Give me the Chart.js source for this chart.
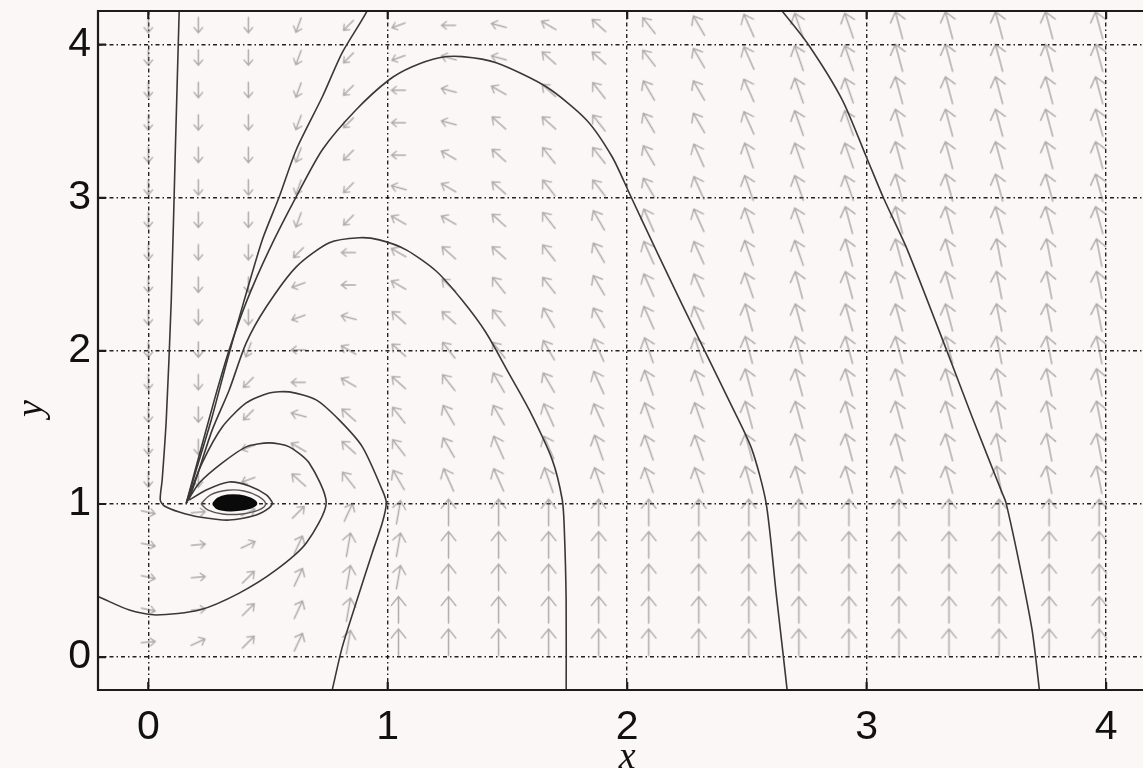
<!DOCTYPE html>
<html>
<head>
<meta charset="utf-8">
<title>Phase portrait</title>
<script src="https://cdn.jsdelivr.net/npm/chart.js@4.4.1/dist/chart.umd.min.js"></script>
<style>
  html, body { margin: 0; padding: 0; background: #fcf7f7; overflow: hidden; }
  #wrap { width: 1160px; height: 768px; }
</style>
</head>
<body>
<div id="wrap"><canvas id="phase" width="1160" height="768"></canvas></div>
<script>
// Axis ticks
const xTicks = [0, 1, 2, 3, 4];
const yTicks = [0, 1, 2, 3, 4];

// Quiver grid
const fieldX = [0, 0.209, 0.418, 0.627, 0.836, 1.045, 1.254, 1.463, 1.672, 1.881,
                2.09, 2.299, 2.508, 2.717, 2.926, 3.135, 3.344, 3.553, 3.762, 3.971];
const fieldY = [0.098, 0.31, 0.522, 0.734, 0.946, 1.158, 1.37, 1.582, 1.794, 2.006,
                2.218, 2.43, 2.642, 2.854, 3.066, 3.278, 3.49, 3.702, 3.914, 4.126];

// one letter per arrow, bottom row first
const fieldCodes = [
    'tsrqpooooooooooooooo',
    'utrqpooooooooooooooo',
    'utrqppoooooooooooooo',
    'utsqppoooooooooooooo',
    'utsrqpoooooooooooooo',
    'aadhijkkllllmmmmmnnn',
    'aadghijkklllmmmmmnnn',
    'aacfhijjkkllmmmmmnnn',
    'aaceghijjkllmmmmmnnn',
    'aabeghiijkllmmmmmnnn',
    'aaadfhhijjkkmmmmmnnn',
    'aaadeghiijkklmmmmnnn',
    'aaaceghhijkkllmmmnnn',
    'aaabcgghijkkllmmmmmm',
    'aaabcfghiijklllmmmmm',
    'aaabceghiijklllmmmmm',
    'aaabcefhhijjkllmmmmm',
    'aaabcefghijjkllmmmmm',
    'aaabcdffhhijkllmmmmm',
    'aaabcdefghijkllmmmmm'
];

// letter -> [direction in degrees, relative magnitude]
const glyphs = {
    a: [-90, 0.55], b: [-110, 0.55], c: [-135, 0.5], d: [-160, 0.5],
    e: [180, 0.5], f: [165, 0.55], g: [150, 0.6], h: [138, 0.65],
    i: [128, 0.72], j: [120, 0.8], k: [114, 0.88], l: [109, 0.94],
    m: [105, 1.0], n: [101, 1.0], o: [90, 0.95], p: [80, 0.85],
    q: [65, 0.7], r: [45, 0.6], s: [25, 0.55], t: [5, 0.5], u: [-12, 0.5]
};

// Trajectories [x, y]
const trajLeft = [[0.131, 4.3], [0.129, 4.216], [0.113, 3.314], [0.096, 2.333], [0.075, 1.549],
    [0.058, 1.157], [0.05, 1.026], [0.067, 0.987], [0.129, 0.948], [0.213, 0.915],
    [0.338, 0.895], [0.451, 0.928], [0.505, 0.974], [0.518, 1.007], [0.493, 1.059],
    [0.422, 1.118], [0.338, 1.144], [0.242, 1.092], [0.171, 1.026]];
const trajInner = [[-0.3, 0.45], [-0.205, 0.392], [-0.079, 0.307], [0.033, 0.275], [0.213, 0.307],
    [0.38, 0.418], [0.534, 0.569], [0.66, 0.745], [0.743, 1.007], [0.672, 1.268],
    [0.589, 1.373], [0.505, 1.399], [0.409, 1.373], [0.309, 1.268], [0.213, 1.137], [0.159, 1.007]];
const trajSecond = [[0.755, -0.3], [0.768, -0.216], [0.81, 0.065], [0.881, 0.418], [0.935, 0.68],
    [0.977, 0.876], [0.994, 1.007], [0.977, 1.092], [0.894, 1.373], [0.797, 1.549],
    [0.701, 1.68], [0.589, 1.732], [0.505, 1.725], [0.409, 1.66], [0.309, 1.503],
    [0.225, 1.268], [0.159, 1.007]];
const trajThird = [[1.745, -0.3], [1.745, 0.373], [1.737, 0.85], [1.729, 1.026], [1.687, 1.288],
    [1.591, 1.614], [1.5, 1.87], [1.41, 2.12], [1.311, 2.33], [1.203, 2.52],
    [1.077, 2.66], [0.965, 2.725], [0.881, 2.739], [0.756, 2.706], [0.618, 2.549],
    [0.493, 2.288], [0.409, 2.052], [0.338, 1.745], [0.267, 1.484], [0.184, 1.092], [0.159, 1.007]];
const trajFourth = [[2.672, -0.3], [2.668, -0.216], [2.622, 0.418], [2.58, 1.007], [2.52, 1.36],
    [2.43, 1.66], [2.33, 1.98], [2.23, 2.3], [2.12, 2.66], [2.008, 3.033],
    [1.937, 3.268], [1.829, 3.51], [1.662, 3.725], [1.453, 3.882], [1.311, 3.922],
    [1.215, 3.915], [1.102, 3.856], [1.006, 3.771], [0.868, 3.575], [0.727, 3.314],
    [0.618, 3.007], [0.505, 2.66], [0.413, 2.333], [0.338, 2.007], [0.276, 1.68],
    [0.213, 1.32], [0.159, 1.007]];
const trajFan = [[0.93, 4.3], [0.91, 4.209], [0.81, 3.948], [0.727, 3.66], [0.618, 3.314],
    [0.547, 3.007], [0.476, 2.725], [0.401, 2.333], [0.33, 1.941], [0.263, 1.549],
    [0.2, 1.222], [0.159, 1.007]];
const trajOuter = [[3.726, -0.3], [3.72, -0.196], [3.691, 0.176], [3.637, 0.614], [3.582, 1.007],
    [3.566, 1.072], [3.44, 1.57], [3.335, 2.0], [3.17, 2.66], [3.07, 3.0],
    [2.998, 3.27], [2.898, 3.64], [2.757, 4.0], [2.649, 4.216], [2.6, 4.3]];

// Focus near (0.36, 1)
const focusCore = [[0.27, 1.0], [0.29, 1.035], [0.33, 1.055], [0.38, 1.055], [0.42, 1.04],
    [0.45, 1.01], [0.44, 0.985], [0.4, 0.965], [0.34, 0.958], [0.29, 0.97], [0.27, 1.0]];
const focusRing = [[0.22, 1.0], [0.26, 1.06], [0.33, 1.09], [0.4, 1.085], [0.46, 1.05],
    [0.49, 1.0], [0.46, 0.96], [0.39, 0.935], [0.31, 0.935], [0.25, 0.96], [0.22, 1.0]];

const MAX_ARROW = 28;
const ARROW_COLOR = 'rgba(110, 110, 110, 0.55)';
const LINE_COLOR = '#383838';

function toPoints(list) {
    return list.map(p => ({ x: p[0], y: p[1] }));
}

// Pre-render one arrow canvas per glyph letter (pointing right, rotated by Chart.js)
const arrowImages = {};
Object.keys(glyphs).forEach(k => {
    const len = glyphs[k][1] * MAX_ARROW;
    const head = len * 0.34;
    const half = head * 0.8;
    const cv = document.createElement('canvas');
    cv.width = Math.ceil(len + 6);
    cv.height = Math.ceil(half * 2 + 6);
    const c = cv.getContext('2d');
    const cy = cv.height / 2;
    const x0 = 3, x1 = 3 + len;
    c.strokeStyle = ARROW_COLOR;
    c.lineWidth = 1.4;
    c.lineCap = 'round';
    c.beginPath();
    c.moveTo(x0, cy);
    c.lineTo(x1, cy);
    c.moveTo(x1 - head, cy - half);
    c.lineTo(x1, cy);
    c.lineTo(x1 - head, cy + half);
    c.stroke();
    arrowImages[k] = cv;
});

function buildField() {
    const pts = [];
    fieldCodes.forEach((row, j) => {
        row.split('').forEach((code, i) => {
            pts.push({ x: fieldX[i], y: fieldY[j], code: code });
        });
    });
    return pts;
}

function trajectory(list) {
    return {
        data: toPoints(list),
        showLine: true,
        borderColor: LINE_COLOR,
        borderWidth: 1.6,
        pointRadius: 0,
        tension: 0.25,
        fill: false,
        order: 1
    };
}

// Frame, inward ticks and axis titles
const framePlugin = {
    id: 'frame',
    afterDraw(chart) {
        const { ctx, chartArea: a, scales } = chart;
        ctx.save();
        ctx.strokeStyle = '#1c1c1c';
        ctx.lineWidth = 2.2;
        ctx.beginPath();
        ctx.moveTo(a.right, a.top);
        ctx.lineTo(a.left, a.top);
        ctx.lineTo(a.left, a.bottom);
        ctx.lineTo(a.right, a.bottom);
        ctx.stroke();

        ctx.beginPath();
        xTicks.forEach(v => {
            const px = scales.x.getPixelForValue(v);
            ctx.moveTo(px, a.bottom);
            ctx.lineTo(px, a.bottom - 8);
            ctx.moveTo(px, a.top);
            ctx.lineTo(px, a.top + 8);
        });
        yTicks.forEach(v => {
            const py = scales.y.getPixelForValue(v);
            ctx.moveTo(a.left, py);
            ctx.lineTo(a.left + 8, py);
        });
        ctx.stroke();

        ctx.fillStyle = '#111';
        ctx.font = 'italic 38px "Liberation Serif", "DejaVu Serif", serif';
        ctx.textAlign = 'center';
        ctx.textBaseline = 'alphabetic';
        ctx.fillText('x', scales.x.getPixelForValue(2), 768);

        ctx.translate(32, (a.top + a.bottom) / 2 + 58);
        ctx.rotate(-Math.PI / 2);
        ctx.textBaseline = 'middle';
        ctx.fillText('y', 0, 0);
        ctx.restore();
    }
};

function initPhaseChart() {
    const el = document.getElementById('phase');
    if (!el) return null;

    const tickFont = { family: '"Liberation Sans", Arial, Helvetica, sans-serif', size: 41 };

    return new Chart(el.getContext('2d'), {
        type: 'scatter',
        data: {
            datasets: [
                {
                    data: toPoints(focusCore),
                    showLine: true,
                    borderColor: '#0a0a0a',
                    backgroundColor: '#0a0a0a',
                    borderWidth: 2,
                    pointRadius: 0,
                    tension: 0.4,
                    fill: 'shape',
                    order: 0
                },
                {
                    data: toPoints(focusRing),
                    showLine: true,
                    borderColor: '#555',
                    borderWidth: 1.4,
                    pointRadius: 0,
                    tension: 0.4,
                    fill: false,
                    order: 0
                },
                trajectory(trajLeft),
                trajectory(trajInner),
                trajectory(trajSecond),
                trajectory(trajThird),
                trajectory(trajFourth),
                trajectory(trajFan),
                trajectory(trajOuter),
                {
                    data: buildField(),
                    showLine: false,
                    pointRadius: 1,
                    pointStyle: ctx => arrowImages[ctx.raw.code],
                    rotation: ctx => -glyphs[ctx.raw.code][0],
                    order: 10
                }
            ]
        },
        options: {
            responsive: false,
            animation: false,
            events: [],
            layout: { padding: { top: 11, right: 6, left: 0, bottom: 0 } },
            plugins: {
                legend: { display: false },
                tooltip: { enabled: false }
            },
            scales: {
                x: {
                    type: 'linear',
                    min: -0.21,
                    max: 4.2,
                    afterBuildTicks: s => { s.ticks = xTicks.map(v => ({ value: v })); },
                    afterFit: s => { s.height = 78; s.paddingLeft = 0; s.paddingRight = 0; },
                    grid: { color: 'rgba(10,10,10,0.9)', lineWidth: 1.4, drawTicks: false },
                    border: { display: false, dash: [4, 3, 1.5, 3] },
                    ticks: { font: tickFont, color: '#111', padding: 13, autoSkip: false, maxRotation: 0 }
                },
                y: {
                    type: 'linear',
                    min: -0.215,
                    max: 4.22,
                    afterBuildTicks: s => { s.ticks = yTicks.map(v => ({ value: v })); },
                    afterFit: s => { s.width = 98; s.paddingTop = 0; s.paddingBottom = 0; },
                    grid: { color: 'rgba(10,10,10,0.9)', lineWidth: 1.4, drawTicks: false },
                    border: { display: false, dash: [4, 3, 1.5, 3] },
                    ticks: { font: tickFont, color: '#111', padding: 7, autoSkip: false }
                }
            }
        },
        plugins: [framePlugin]
    });
}

initPhaseChart();
</script>
</body>
</html>
